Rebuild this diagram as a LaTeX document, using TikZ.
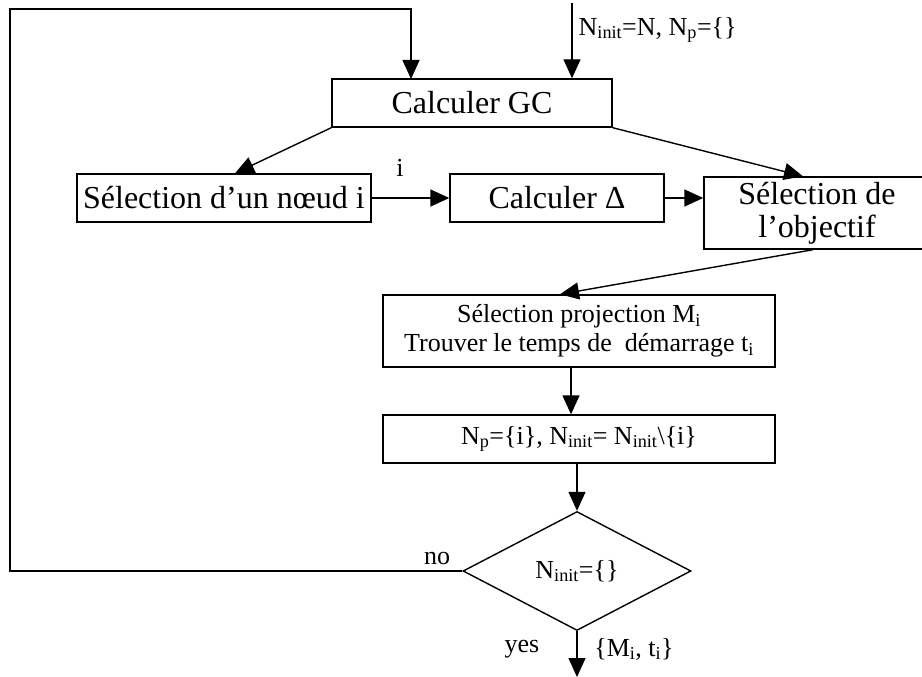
\documentclass[tikz,border=0pt]{standalone}
\usepackage{fontspec}
\setmainfont{Liberation Serif}
\usetikzlibrary{arrows.meta,shapes.geometric,calc}
\begin{document}
\begin{tikzpicture}[x=1pt,y=1pt,
  line width=1.4pt,
  arr/.style={-{Triangle[length=19pt,width=17pt]}},
  bigbox/.style={draw, rectangle, inner sep=0pt, font=\fontsize{32}{33}\selectfont, align=center},
  smallbox/.style={draw, rectangle, inner sep=0pt, font=\fontsize{26}{29}\selectfont, align=center},
  lbl/.style={inner sep=0pt, font=\fontsize{26}{29}\selectfont}]
\useasboundingbox (0,0) rectangle (922,-677);
\clip (0,0) rectangle (922,-677);

% process boxes
\node[bigbox, minimum width=280pt, minimum height=48pt] (gc) at (472,-103) {Calculer GC};
\node[bigbox, minimum width=294pt, minimum height=48pt] (noeud) at (224,-198) {Sélection d’un nœud i};
\node[bigbox, minimum width=214pt, minimum height=48pt] (delta) at (557,-198) {Calculer Δ};
\node[bigbox, minimum width=226pt, minimum height=72pt] (obj) at (817,-213) {Sélection de\\l’objectif};
\node[smallbox, minimum width=392pt, minimum height=72pt] (proj) at (579,-331)
  {Sélection projection M\textsubscript{i}\\Trouver le temps de~ démarrage t\textsubscript{i}};
\node[smallbox, minimum width=392pt, minimum height=48pt] (np) at (579,-439)
  {N\textsubscript{p}=\{i\}, N\textsubscript{init}= N\textsubscript{init}\textbackslash\{i\}};
\node[draw, diamond, inner sep=0pt, minimum width=228pt, minimum height=119pt,
  font=\fontsize{26}{29}\selectfont] (dia) at (577,-571) {N\textsubscript{init}=\{\}};

% free ends
\coordinate (loopx) at (10,-9);
\coordinate (init) at (572,-3);
\coordinate (out) at (577,-677);

% loop back from the test
\draw[arr] (dia.west) -- (dia.west -| loopx) -- (loopx) -- (411,-9) -- (411,-79);
\node[lbl, anchor=south] (no) at (437,-565) {no};

% entry
\draw[arr] (init) -- (init |- gc.north);
\node[lbl, anchor=west] (initlbl) at (578,-30) {N\textsubscript{init}=N, N\textsubscript{p}=\{\}};

% flow
\draw[arr] (gc.south west) -- ($(noeud.north)+(11,0)$);
\draw[arr] (gc.south east) -- ($(obj.north)+(-14,0)$);
\draw[arr] (noeud.east) -- (delta.west);
\node[lbl] (ilbl) at (400,-168) {i};
\draw[arr] (delta.east) -- (delta.east -| obj.west);
\draw[arr] ($(obj.south)+(-4,0)$) -- ($(proj.north)+(-19,0)$);
\draw[arr] ($(proj.south)+(-8,0)$) -- ($(np.north)+(-8,0)$);
\draw[arr] (dia.north |- np.south) -- (dia.north);
\draw[arr] (dia.south) -- (out);
\node[lbl] (yes) at (522,-649) {yes};
\node[lbl] (res) at (634,-649) {\{M\textsubscript{i}, t\textsubscript{i}\}};
\end{tikzpicture}
\end{document}
